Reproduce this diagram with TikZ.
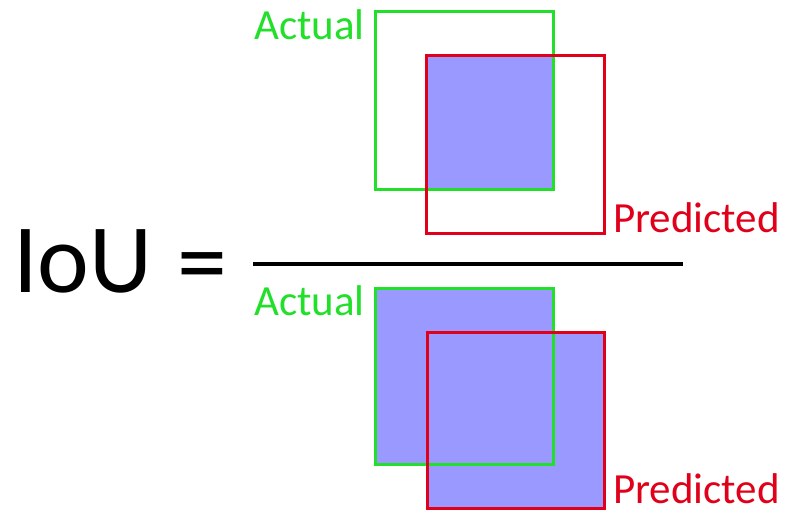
\documentclass[tikz,border=0pt]{standalone}
\usepackage{fontspec}
\setmainfont{Carlito}
\definecolor{actgreen}{HTML}{22E02A}
\definecolor{predred}{HTML}{E0001A}
\definecolor{iofill}{HTML}{9999FF}
\tikzset{
  actbox/.style={draw=actgreen, line width=3pt},
  predbox/.style={draw=predred, line width=3pt},
  actlabel/.style={text=actgreen, font=\fontsize{43}{43}\selectfont, anchor=base west, inner sep=0pt},
  predlabel/.style={text=predred, font=\fontsize{43}{43}\selectfont, anchor=base west, inner sep=0pt, text depth=0pt},
}
\begin{document}
\begin{tikzpicture}[x=1pt,y=-1pt]
\useasboundingbox (0,0) rectangle (787,511);
% numerator: intersection
\fill[iofill] (426,56) rectangle (553,189);
\draw[actbox] (375,12) rectangle (553,189);
\draw[predbox] (426,56) rectangle (604,233);
\node[actlabel] (a1) at (254,40) {Actual};
\node[predlabel] (p1) at (613,232) {Predicted};
% fraction
\node[anchor=base west, inner sep=0pt, font=\fontsize{98}{98}\selectfont] (iou) at (13,292) {IoU};
\node[inner sep=0pt, font=\fontsize{100}{100}\selectfont] (eq) at (202,274) {=};
\draw[line width=4pt] (253,264) -- (683,264);
% denominator: union
\fill[iofill] (375,288) rectangle (553,464);
\fill[iofill] (427,332) rectangle (604,508);
\draw[actbox] (375,288) rectangle (553,464);
\draw[predbox] (427,332) rectangle (604,508);
\node[actlabel] (a2) at (254,315) {Actual};
\node[predlabel] (p2) at (613,503) {Predicted};
\end{tikzpicture}
\end{document}
